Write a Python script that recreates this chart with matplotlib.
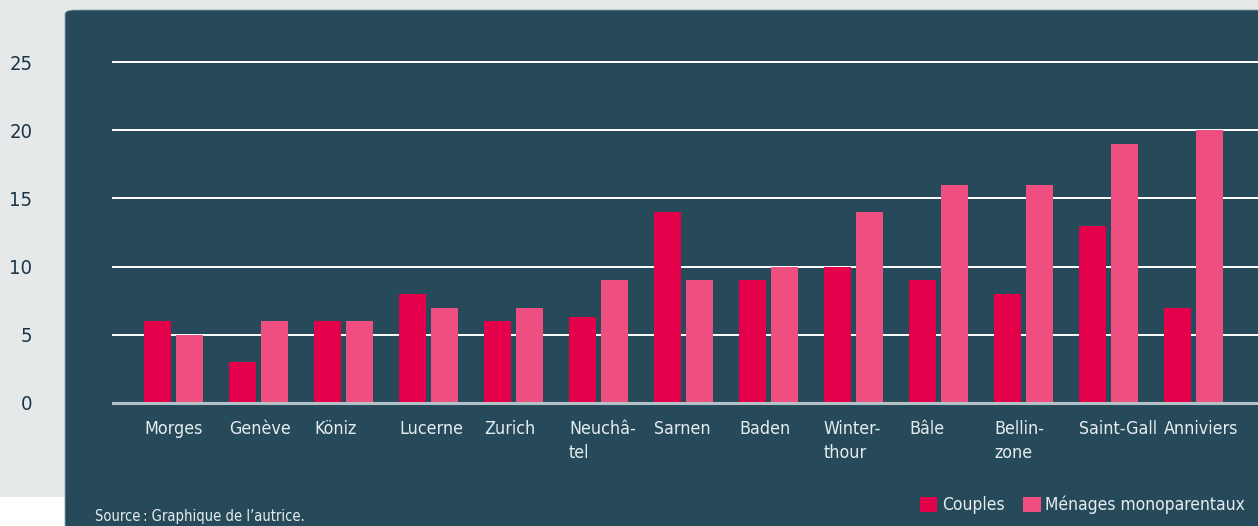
import numpy as np
import matplotlib.pyplot as plt
from matplotlib.patches import FancyBboxPatch, Rectangle, Patch

villes = ['Morges', 'Genève', 'Köniz', 'Lucerne', 'Zurich', 'Neuchâ-\ntel', 'Sarnen',
          'Baden', 'Winter-\nthour', 'Bâle', 'Bellin-\nzone', 'Saint-Gall', 'Anniviers']
couples = [6, 3, 6, 8, 6, 6.3, 14, 9, 10, 9, 8, 13, 7]
monoparentaux = [5, 6, 6, 7, 7, 9, 9, 10, 14, 16, 16, 19, 20]
yticks = [0, 5, 10, 15, 20, 25]

PANEL = '#264a5a'
RED = '#e5004b'
PINK = '#ef4f80'
TXT = '#e6edf0'

plt.rcParams['font.family'] = ['DejaVu Sans']
plt.rcParams['font.stretch'] = 'condensed'

W, H = 1258, 526
fig = plt.figure(figsize=(W / 100, H / 100), dpi=100, facecolor='#e6e9ea')
fig.patches.append(Rectangle((0, 0), 65 / W, (H - 497) / H, transform=fig.transFigure,
                             facecolor='white', edgecolor='none', zorder=-2))
fig.patches.append(FancyBboxPatch((65 / W, -0.05), 1.1, (H - 10) / H + 0.05,
                                  boxstyle='round,pad=0,rounding_size=0.008',
                                  transform=fig.transFigure, facecolor=PANEL,
                                  edgecolor='#8fa3ad', linewidth=0.6, zorder=-2))

ax = fig.add_axes([113 / W, (H - 403) / H, 1 - 113 / W, (403 - 62) / H])
ax.set_facecolor('none')
x = np.arange(len(villes))
bw = 0.318
off = 0.188
ax.bar(x - off, couples, bw, color=RED, zorder=3)
ax.bar(x + off, monoparentaux, bw, color=PINK, zorder=3)
ax.set_xlim(-0.712, 12.76)
ax.set_ylim(0, 25)
for v in yticks[1:]:
    ax.axhline(v, color='white', lw=1.4, zorder=1, clip_on=False)
ax.axhline(0, color='#b4c2c8', lw=2.2, zorder=4, clip_on=False)
for s in ax.spines.values():
    s.set_visible(False)
ax.set_yticks(yticks)
ax.tick_params(axis='y', length=0, pad=58, labelsize=14.5, labelcolor='#1c3446')
for t in ax.get_yticklabels():
    t.set_horizontalalignment('right')
ax.set_xticks(x - off - bw / 2)
ax.set_xticklabels(villes, ha='left', fontsize=12.8, color=TXT, linespacing=1.42)
ax.tick_params(axis='x', length=0, pad=12)

fig.text(95 / W, 1 - 516 / H, 'Source\u2009: Graphique de l\u2019autrice.', fontsize=10.5,
         color=TXT, va='center', ha='left')

handles = [Patch(facecolor=RED, label='Couples'), Patch(facecolor=PINK, label='Ménages monoparentaux')]
leg = fig.legend(handles=handles, loc='center left', bbox_to_anchor=(920 / W, 1 - 505 / H),
                 ncol=2, frameon=False, fontsize=12.5, handlelength=1.0, handleheight=1.0,
                 handletextpad=0.25, columnspacing=1.1, borderaxespad=0, borderpad=0)
for t in leg.get_texts():
    t.set_color(TXT)

fig.savefig('out.png', dpi=100, facecolor=fig.get_facecolor())
